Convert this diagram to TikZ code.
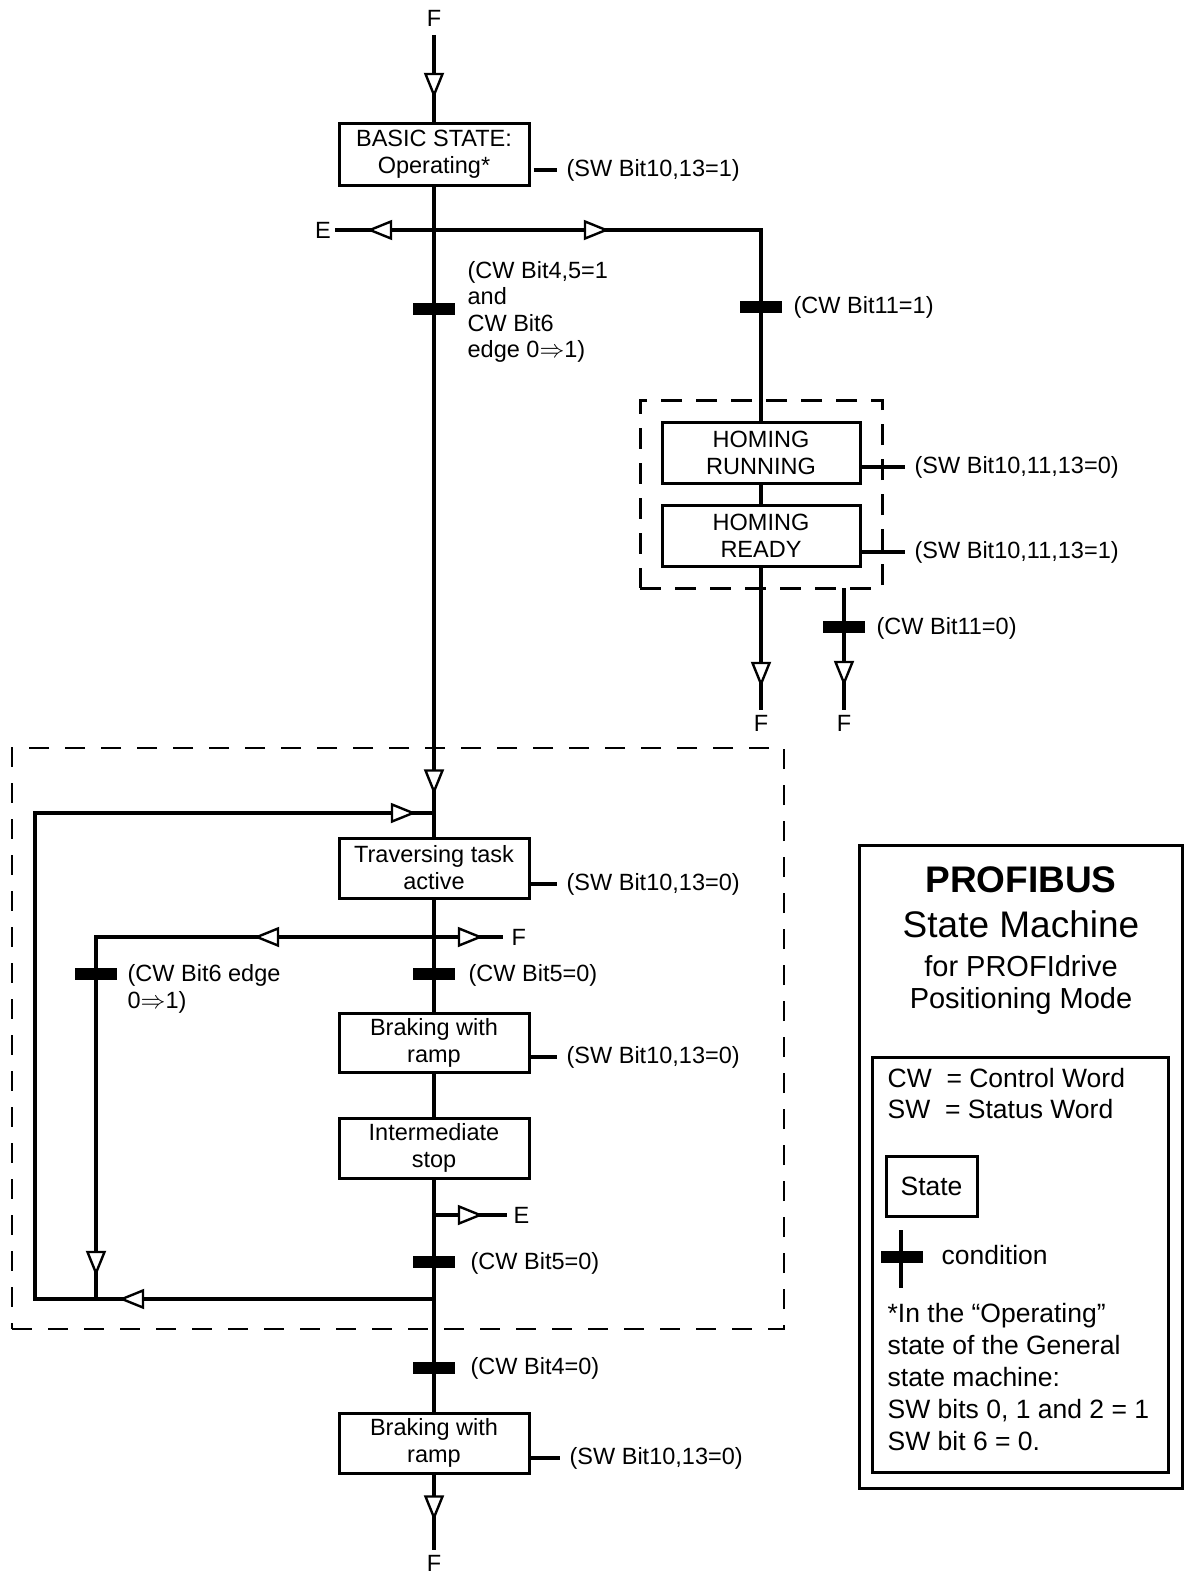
\documentclass[tikz,border=0pt]{standalone}
\usepackage{fontspec}
\setmainfont{Liberation Sans}
\usetikzlibrary{decorations.markings}
\newcommand\oarr{\draw[line width=2.4pt,fill=white,line join=miter,solid] (-2,0) -- (-23,-8.5) -- (-23,8.5) -- cycle;}
\begin{document}
\begin{tikzpicture}[x=1pt,y=-1pt,line width=3.3pt,
  base/.style={font=\fontsize{23.5}{27}\selectfont},
  state/.style={base,draw,line width=3pt,minimum width=190pt,minimum height=60pt,align=center,inner sep=0pt},
  hstate/.style={state,minimum width=198pt,minimum height=61pt},
  lbl/.style={base,anchor=west,align=left,inner sep=0pt},
  term/.style={base,inner sep=0pt},
  cond/.style={fill=black,draw=none,minimum width=42pt,minimum height=12pt,inner sep=0pt},
  legtxt/.style={font=\fontsize{26.5}{32}\selectfont,anchor=west,align=left,inner sep=0pt},
  mk/.style={postaction={decorate},decoration={markings,#1}},
  grp/.style={draw,dash pattern=on 21pt off 14pt,line width=3pt,inner sep=0pt},
  biggrp/.style={draw,dash pattern=on 20pt off 16pt,line width=2pt,inner sep=0pt}
]
\useasboundingbox (0,0) rectangle (1185,1576);

% ---------- groups ----------
\node[grp,minimum width=242pt,minimum height=188pt] (homing) at (761,494) {};
\node[biggrp,minimum width=772pt,minimum height=581pt] (pos) at (398,1038.5) {};

% ---------- states ----------
\node[state,minimum height=61pt] (basic) at (434,154.5) {BASIC STATE:\\Operating*};
\node[hstate] (run) at (761,452.5) {HOMING\\RUNNING};
\node[hstate] (ready) at (761,536) {HOMING\\READY};
\node[state] (trav) at (434,868) {Traversing task\\active};
\node[state,minimum height=59pt] (brake1) at (434,1042.5) {Braking with\\ramp};
\node[state] (inter) at (434,1148) {Intermediate\\stop};
\node[state] (brake2) at (434,1443) {Braking with\\ramp};

% ---------- terminal labels ----------
\node[term] (Ftop) at (434,18) {F};
\node[term] (Eleft) at (323,230) {E};
\node[term] (Fh1) at (761,723) {F};
\node[term] (Fh2) at (844,723) {F};
\node[term,anchor=west] (Fbr) at (510,937) {F};
\node[term,anchor=west] (Ebr) at (512,1215) {E};
\node[term] (Fbot) at (434,1563) {F};

% ---------- coordinates ----------
\coordinate (ftEnd) at (434,35);
\coordinate (j1) at (434,230);
\coordinate (eEnd) at (335,230);
\coordinate (r1) at (761,230);
\coordinate (h2) at (844,588);
\coordinate (f2End) at (761,710);
\coordinate (f3End) at (844,710);
\coordinate (j2) at (434,813);
\coordinate (j3) at (434,937);
\coordinate (ib) at (96,937);
\coordinate (ibb) at (96,1299);
\coordinate (fbEnd) at (503,937);
\coordinate (j4) at (434,1215);
\coordinate (e2End) at (507,1215);
\coordinate (j5) at (434,1299);
\coordinate (lb) at (35,1299);
\coordinate (lt) at (35,813);
\coordinate (fbotEnd) at (434,1550);

% ---------- connectors ----------
\draw[mk={mark=at position 62pt with {\oarr}}] (ftEnd) -- (basic.north);
\draw[mk={mark=at position 607pt with {\oarr}}] (basic.south) -- (trav.north);
\draw[mk={mark=at position 66pt with {\oarr}}] (j1) -- (eEnd);
\draw[mk={mark=at position 174pt with {\oarr}}] (j1) -- (r1) -- (run.north);
\draw (run.south) -- (ready.north);
\draw[mk={mark=at position 118pt with {\oarr}}] (ready.south) -- (f2End);
\draw[mk={mark=at position 97pt with {\oarr}}] (h2) -- (f3End);
\draw[mk={mark=at position 314pt with {\oarr},mark=at position 1265pt with {\oarr}}] (j5) -- (lb) -- (lt) -- (j2);
\draw[mk={mark=at position 179pt with {\oarr},mark=at position 676pt with {\oarr}}] (j3) -- (ib) -- (ibb);
\draw[mk={mark=at position 48pt with {\oarr}}] (j3) -- (fbEnd);
\draw (trav.south) -- (brake1.north);
\draw (brake1.south) -- (inter.north);
\draw (inter.south) -- (brake2.north);
\draw[mk={mark=at position 48pt with {\oarr}}] (j4) -- (e2End);
\draw[mk={mark=at position 45pt with {\oarr}}] (brake2.south) -- (fbotEnd);

% ---------- status labels ----------
\node[lbl] (sw1) at (565,170) {(SW Bit10,13=1)};
\draw ([xshift=3pt]basic.east |- sw1.west) -- ([xshift=-8pt]sw1.west);
\node[lbl] (sw2) at (913,467) {(SW Bit10,11,13=0)};
\draw (run.east |- sw2.west) -- ([xshift=-8pt]sw2.west);
\node[lbl] (sw3) at (913,552) {(SW Bit10,11,13=1)};
\draw (ready.east |- sw3.west) -- ([xshift=-8pt]sw3.west);
\node[lbl] (sw4) at (565,884) {(SW Bit10,13=0)};
\draw (trav.east |- sw4.west) -- ([xshift=-8pt]sw4.west);
\node[lbl] (sw5) at (565,1057) {(SW Bit10,13=0)};
\draw (brake1.east |- sw5.west) -- ([xshift=-8pt]sw5.west);
\node[lbl] (sw6) at (568,1458) {(SW Bit10,13=0)};
\draw (brake2.east |- sw6.west) -- ([xshift=-8pt]sw6.west);

% ---------- conditions ----------
\node[cond] (c1) at (434,309) {};
\node[lbl,font=\fontsize{23.5}{26.5}\selectfont] (c1t) at (466,312) {(CW Bit4,5=1\\and\\CW Bit6\\edge 0$\Rightarrow$1)};
\node[cond] (c2) at (761,307) {};
\node[lbl] (c2t) at (792,307) {(CW Bit11=1)};
\node[cond] (c3) at (844,627) {};
\node[lbl] (c3t) at (875,628) {(CW Bit11=0)};
\node[cond] (c4) at (96,974) {};
\node[lbl] (c4t) at (126,989) {(CW Bit6 edge\\0$\Rightarrow$1)};
\node[cond] (c5) at (434,974) {};
\node[lbl] (c5t) at (467,975) {(CW Bit5=0)};
\node[cond] (c6) at (434,1262) {};
\node[lbl] (c6t) at (469,1263) {(CW Bit5=0)};
\node[cond] (c7) at (434,1368) {};
\node[lbl] (c7t) at (469,1368) {(CW Bit4=0)};

% ---------- legend ----------
\node[draw,line width=3pt,minimum width=323pt,minimum height=643pt,inner sep=0pt] (leg) at (1020.5,1166.5) {};
\node[font=\fontsize{37}{40}\selectfont\bfseries,inner sep=0pt] (t1) at (1021,880) {PROFIBUS};
\node[font=\fontsize{37}{40}\selectfont,inner sep=0pt] (t2) at (1021,924) {State Machine};
\node[font=\fontsize{29}{32}\selectfont,inner sep=0pt] (t3) at (1021,966) {for PROFIdrive};
\node[font=\fontsize{29}{32}\selectfont,inner sep=0pt] (t4) at (1021,1001) {Positioning Mode};
\node[draw,line width=3pt,minimum width=296pt,minimum height=415pt,inner sep=0pt] (inner) at (1020,1264.5) {};
\node[legtxt] (cw) at (886,1078) {CW\ \ = Control Word};
\node[legtxt] (sw) at (886,1109) {SW\ \ = Status Word};
\node[draw,line width=3pt,minimum width=91pt,minimum height=60pt,inner sep=0pt,font=\fontsize{26.5}{32}\selectfont] (lstate) at (931.5,1186) {State};
\coordinate (lc1) at (901,1230);
\coordinate (lc2) at (901,1288);
\draw (lc1) -- (lc2);
\node[cond] (lbar) at (901.5,1257) {};
\node[legtxt] (lcond) at (940,1255) {condition};
\node[legtxt] (note) at (886,1377) {*In the “Operating”\\state of the General\\state machine:\\SW bits 0, 1 and 2 = 1\\SW bit 6 = 0.};
\end{tikzpicture}
\end{document}
